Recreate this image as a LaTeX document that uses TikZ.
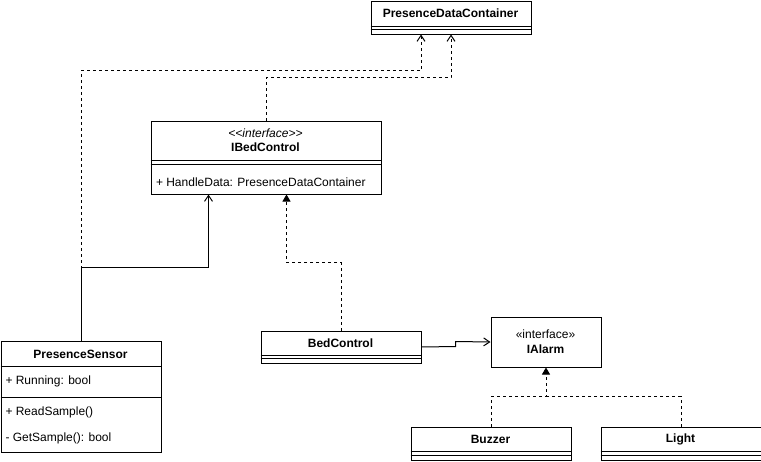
\documentclass[tikz,border=0pt]{standalone}
\usepackage{fontspec}
\setmainfont{Liberation Sans}
\usetikzlibrary{arrows.meta,calc}
\begin{document}
\begin{tikzpicture}[x=1pt,y=-1pt,line width=1pt,
  box/.style={draw,anchor=north west,inner sep=0pt,minimum width=#1},
  title/.style={font=\fontsize{12}{14}\selectfont\bfseries,inner sep=0pt},
  itxt/.style={font=\fontsize{12}{14}\selectfont,inner sep=0pt},
  mtxt/.style={font=\fontsize{12}{14}\selectfont,inner sep=0pt,anchor=west},
  dep/.style={dash pattern=on 3pt off 3pt,-{Straight Barb[length=6pt,width=8pt,line width=1pt]}},
  assoc/.style={-{Straight Barb[length=6pt,width=8pt,line width=1pt]}},
  real/.style={dash pattern=on 3pt off 3pt,-{Triangle[length=7pt,width=8pt]}}]
\useasboundingbox (0,0) rectangle (761,461);
\fill[white] (0,0) rectangle (761,461);

% PresenceDataContainer
\node[box=160pt,minimum height=33pt] (pdc) at (370.5,0.5) {};
\draw (370.5,26.5) -- (530.5,26.5) (370.5,29.5) -- (530.5,29.5);
\node[title] (pdct) at (450.5,13.5) {PresenceDataContainer};

% IBedControl
\node[box=230pt,minimum height=73pt] (ibc) at (150.5,120.5) {};
\draw (150.5,160.5) -- (380.5,160.5) (150.5,164.5) -- (380.5,164.5);
\node[itxt] (ibcs) at (265.5,133.5) {\itshape {<}{<}interface{>}{>}};
\node[title] (ibct) at (265.5,147.5) {IBedControl};
\node[mtxt] (ibcm) at (155.5,182.5) {+ HandleData: PresenceDataContainer};

% BedControl
\node[box=160pt,minimum height=32pt] (bc) at (260.5,330.5) {};
\draw (260.5,355.5) -- (420.5,355.5) (260.5,358.5) -- (420.5,358.5);
\node[title] (bct) at (340.5,343.5) {BedControl};

% IAlarm
\node[box=110pt,minimum height=50pt] (ia) at (490.5,316.5) {};
\node[itxt] (ias) at (545.5,334.5) {«interface»};
\node[title] (iat) at (545.5,349.5) {IAlarm};

% PresenceSensor
\node[box=160pt,minimum height=111pt] (ps) at (0.5,340.5) {};
\draw (0.5,366.5) -- (160.5,366.5) (0.5,397.5) -- (160.5,397.5);
\node[title] (pst) at (80.5,354) {PresenceSensor};
\node[mtxt] (psa) at (5,381) {+ Running: bool};
\node[mtxt] (psm1) at (5,412) {+ ReadSample()};
\node[mtxt] (psm2) at (5,438) {- GetSample(): bool};

% Buzzer
\node[box=160pt,minimum height=33pt] (bz) at (410.5,426.5) {};
\draw (410.5,451.5) -- (570.5,451.5) (410.5,455.5) -- (570.5,455.5);
\node[title] (bzt) at (490.5,439.5) {Buzzer};

% Light
\node[box=160pt,minimum height=33pt] (lt) at (600.5,426.5) {};
\draw (600.5,451.5) -- (760.5,451.5) (600.5,455.5) -- (760.5,455.5);
\node[title] (ltt) at (680.5,439.5) {Light};

% connectors
\draw[dep] (ps.north) -- (ps.north |- 0,70.5) -| ($(pdc.south)+(-30,0)$);
\draw[dep] (ibc.north) -- (ibc.north |- 0,77.5) -| (pdc.south);
\draw[assoc] (ps.north) -- (ps.north |- 0,267.5) -| ($(ibc.south)+(-57.5,0)$);
\draw[real] (bc.north) -- (bc.north |- 0,262.5) -| ($(ibc.south)+(20.5,0)$);
\draw[assoc] (bc.east) -- (455.5,346.5) -- (455.5,341.5) -- (ia.west);
\draw[real] (bz.north) -- (bz.north |- 0,396.5) -| (ia.south);
\draw[dash pattern=on 3pt off 3pt] (lt.north) |- (545.5,396.5);
\end{tikzpicture}
\end{document}
